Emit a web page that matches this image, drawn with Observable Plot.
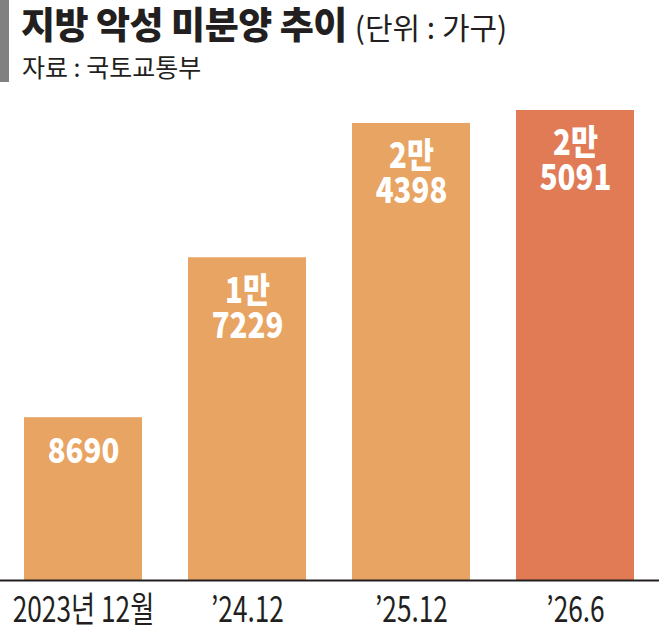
<!DOCTYPE html>
<html><head><meta charset="utf-8">
<script src="https://cdn.jsdelivr.net/npm/d3@7"></script>
<script src="https://cdn.jsdelivr.net/npm/@observablehq/plot@0.6"></script>
<style>
body{margin:0;background:#fff;font-family:"Noto Sans CJK KR",sans-serif;}
#wrap{width:659px;}
#head{position:relative;height:95px;}
#gbar{position:absolute;left:0;top:0;width:9px;height:82px;background:#808080;}
#title{position:absolute;left:21px;top:1px;font-size:37px;line-height:44px;font-weight:900;color:#231f20;letter-spacing:-0.5px;white-space:nowrap;}
#title span{font-size:30px;font-weight:400;letter-spacing:0px;}
#sub{position:absolute;left:22px;top:50px;font-size:25px;line-height:32px;font-weight:400;color:#231f20;letter-spacing:0px;}
</style></head>
<body><div id="wrap">
<div id="head"><div id="gbar"></div>
<div id="title">지방 악성 미분양 추이 <span>(단위 : 가구)</span></div>
<div id="sub">자료 : 국토교통부</div></div>
<div id="chart"></div></div>
<script>
const categories = ["2023년 12월", "’24.12", "’25.12", "’26.6"];
const values = [8690, 17229, 24398, 25091];
const labels = ["8690", "1만\n7229", "2만\n4398", "2만\n5091"];
const colors = ["#E8A462", "#E8A462", "#E8A462", "#E07B56"];

const data = categories.map((c, i) => ({cat: c, v: values[i], label: labels[i], color: colors[i]}));

const chart = Plot.plot({
  width: 659,
  height: 537,
  marginTop: 15,
  marginBottom: 52,
  marginLeft: 0,
  marginRight: 0,
  x: {domain: categories, paddingInner: 0.28, paddingOuter: 0.145, label: null},
  y: {domain: [0, 25091], axis: null},
  style: {fontFamily: "Noto Sans CJK KR"},
  marks: [
    Plot.barY(data, {x: "cat", y: "v", fill: "color"}),
    Plot.text(data, {x: "cat", y: "v", text: "label", dy: 20, lineAnchor: "top", fill: "white", fontSize: 35, fontWeight: 900, lineHeight: 1.0, fontFamily: "Noto Sans CJK KR"}),
    Plot.ruleY([0], {stroke: "#231f20", strokeWidth: 2}),
    Plot.axisX({tickSize: 0, tickPadding: 17, fontSize: 35, fill: "#231f20", label: null})
  ]
});
function squeeze(sel, sx) {
  chart.querySelectorAll(sel).forEach(el => {
    const t = el.getAttribute("transform");
    if (t) el.setAttribute("transform", t + ` scale(${sx},1)`);
    else {
      const x = +el.getAttribute("x") || 0;
      el.setAttribute("transform", `translate(${x},0) scale(${sx},1) translate(${-x},0)`);
    }
  });
}
squeeze('g[aria-label="text"] text', 0.84);
squeeze('g[aria-label="x-axis tick label"] text', 0.75);
document.getElementById("chart").appendChild(chart);
</script>
</body></html>
